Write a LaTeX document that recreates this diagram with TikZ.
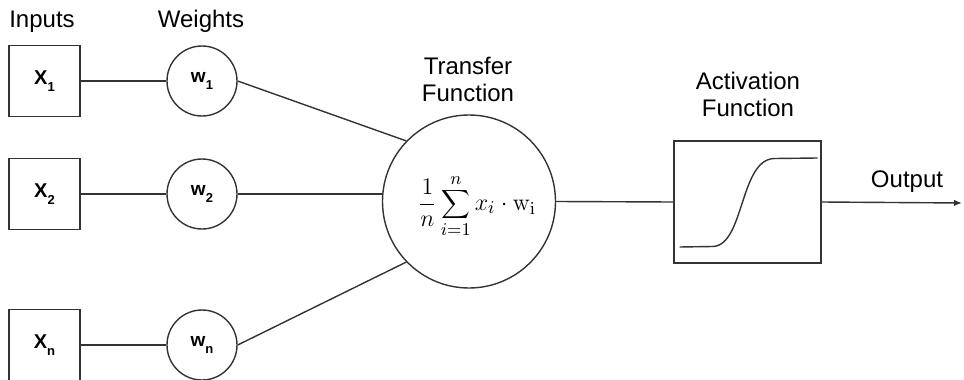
\documentclass[tikz,border=0pt]{standalone}
\usepackage[no-math]{fontspec}
\setmainfont{Liberation Sans}
\usetikzlibrary{arrows.meta,positioning,calc}
\newcommand{\lowidx}[1]{\raisebox{-3.5pt}{\fontsize{6.5}{7}\selectfont #1}}

\begin{document}
\begin{tikzpicture}[x=0.5pt, y=-0.5pt,
  inbox/.style={draw=black!80, line width=0.7pt, minimum size=35.5pt, inner sep=0pt, font=\fontsize{10}{11}\selectfont\bfseries},
  wnode/.style={draw=black!80, line width=0.7pt, circle, minimum size=35pt, inner sep=0pt, font=\fontsize{9.5}{10}\selectfont\bfseries},
  sumnode/.style={draw=black!80, line width=0.7pt, circle, minimum size=86.5pt, inner sep=0pt},
  actbox/.style={draw=black!80, line width=0.7pt, minimum width=73.5pt, minimum height=61pt, inner sep=0pt},
  head/.style={font=\fontsize{12}{13.5}\selectfont, inner sep=0pt, align=center},
  wire/.style={black!80, line width=0.7pt}
]
\useasboundingbox (0,0) rectangle (964,380);
% column heads
\node[head, anchor=base] (hin) at (42,27) {Inputs};
\node[head, anchor=base] (hw) at (201,27.5) {Weights};
% inputs and weights, three rows
\node[inbox] (x1) at (44.5,81) {X\lowidx{1}};
\node[inbox] (x2) at (44.5,194) {X\lowidx{2}};
\node[inbox] (xn) at (44.5,345) {X\lowidx{n}};
\node[wnode] (w1) at (202,81) {w\lowidx{1}};
\node[wnode] (w2) at (202,194) {w\lowidx{2}};
\node[wnode] (wn) at (202,345) {w\lowidx{n}};
% transfer function
\node[sumnode] (tf) at (469,201.5) {};
\node[inner sep=0pt] at (477,206) (sum) {\fontsize{13}{15}\selectfont$\displaystyle\frac{1}{n}\sum_{i=1}^{n} x_i\cdot\mathrm{w}_\mathrm{i}$};
\node[head, anchor=south] (htf) at (468,102) {Transfer\\Function};
% activation function
\node[actbox] (act) at (747.5,202) {};
\node[head, anchor=south] (hact) at (748,117) {Activation\\Function};
\begin{scope}[shift={(act.center)}]
  \draw[wire] (-68,45) -- (-35,44.5) .. controls (-3,44) and (-8,-43) .. (27,-43.5) -- (70,-44);
\end{scope}
\coordinate (out) at (962,203);
\node[head, anchor=base] (hout) at (907,187) {Output};
% connectors
\draw[wire] (x1) -- (w1);
\draw[wire] (x2) -- (w2);
\draw[wire] (xn) -- (wn);
\draw[wire] (w1.east) -- (tf.136);
\draw[wire] (w2.east) -- (w2.east -| tf.west);
\draw[wire] (wn.east) -- (tf.224);
\draw[wire] (tf.east) -- (act.west);
\draw[wire, -{Latex[length=4pt,width=3.2pt]}] (act.east) -- (out);
\end{tikzpicture}
\end{document}
